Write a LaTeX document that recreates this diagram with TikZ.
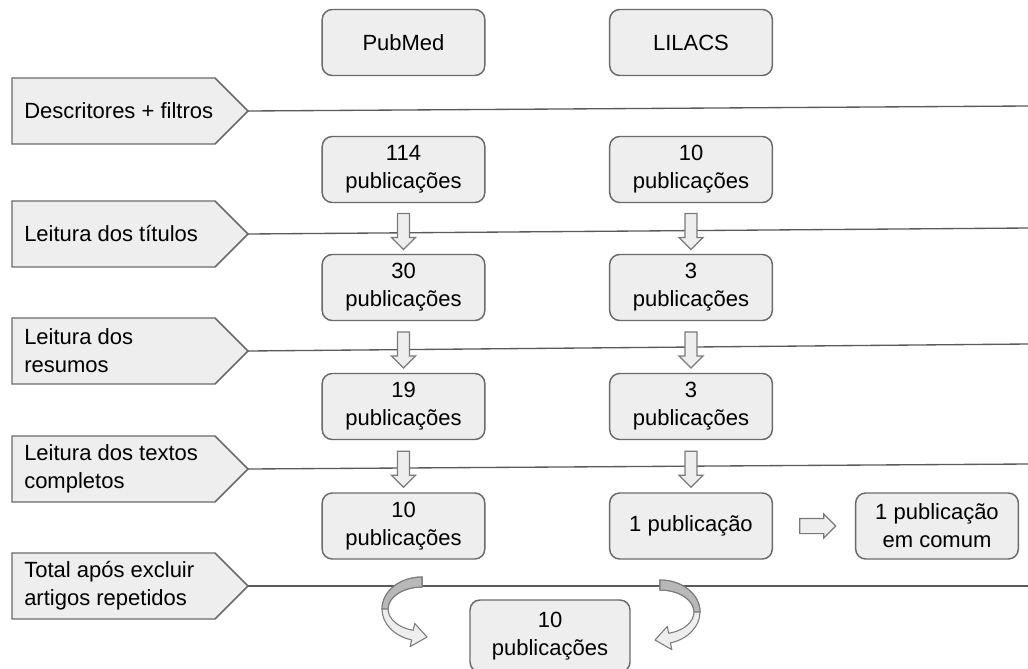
\documentclass[tikz,border=0pt]{standalone}
\usepackage{fontspec}
\setmainfont{Liberation Sans}
\usetikzlibrary{shapes.arrows,calc}

\definecolor{boxfill}{HTML}{EEEEEE}
\definecolor{boxline}{HTML}{6A6A6A}
\definecolor{ruleline}{HTML}{5A5A5A}
\definecolor{arrowdark}{HTML}{B8B8B8}
\definecolor{arrowline}{HTML}{7A7A7A}

\tikzset{
	base/.style={font=\fontsize{16.5}{21}\selectfont},
	pubbox/.style={base, draw=boxline, fill=boxfill, line width=1.1pt,
		rounded corners=7.5pt, minimum width=122pt, minimum height=49.5pt,
		align=center, inner sep=2pt},
	stagebox/.style={draw=boxline, fill=boxfill, line width=1.1pt},
	stagetext/.style={base, anchor=west, align=left, inner sep=0pt},
	rule/.style={draw=ruleline, line width=1pt},
	blockarrow/.style={single arrow, draw=arrowline, fill=boxfill, line width=0.9pt,
		minimum height=27pt, inner xsep=0pt},
	dnarrow/.style={blockarrow, inner ysep=4.1pt,
		single arrow head extend=4.5pt, rotate=-90},
	rtarrow/.style={blockarrow, inner ysep=5.25pt,
		single arrow head extend=3.4pt},
	curvarrow/.pic={
		% light ribbon with head
		\filldraw[fill=boxfill, draw=arrowline, line width=0.8pt, line join=round]
		(-90:40 and 32) arc (-90:-255:40 and 32) -- (-255:46 and 39) -- (5,28)
		-- (-255:28 and 15) -- (-255:34 and 22) arc (-255:-90:34 and 22) -- cycle;
		% darker upper part
		\filldraw[fill=arrowdark, draw=arrowline, line width=0.8pt]
		(-90:40 and 32) arc (-90:-180:40 and 32) -- (-180:34 and 22)
		arc (-180:-90:34 and 22) -- cycle;
	}
}

\begin{document}
\begin{tikzpicture}[x=0.75pt,y=-0.75pt]
\useasboundingbox (0,0) rectangle (1028,668);

%----------------------------
% Left: stages and their rules
%----------------------------
\foreach \n/\y/\ye/\txt in {1/111/106/{Descritores + filtros},
	2/234/228/{Leitura dos títulos},
	3/351/344/{Leitura dos\\resumos},
	4/469/464/{Leitura dos textos\\completos},
	5/586/586/{Total após excluir\\artigos repetidos}}{
	\draw[stagebox] (12,{\y-33}) -- (215,{\y-33}) -- (248,\y)
	-- (215,{\y+33}) -- (12,{\y+33}) -- cycle;
	\node[stagetext] (s\n) at (24,\y) {\txt};
	\coordinate (tip\n) at (248,\y);
	\coordinate (end\n) at (1028,\ye);
	\draw[rule] (tip\n) -- (end\n);
}

%----------------------------
% Columns: PubMed and LILACS
%----------------------------
\node[pubbox] (pub) at (403.5,42.5) {PubMed};
\node[pubbox] (lil) at (691,42.5) {LILACS};

\node[pubbox] (p1) at (403.5,169.5) {114\\publicações};
\node[pubbox] (p2) at (403.5,287.5) {30\\publicações};
\node[pubbox] (p3) at (403.5,406.5) {19\\publicações};
\node[pubbox] (p4) at (403.5,526) {10\\publicações};

\node[pubbox] (l1) at (691,169.5) {10\\publicações};
\node[pubbox] (l2) at (691,287.5) {3\\publicações};
\node[pubbox] (l3) at (691,406.5) {3\\publicações};
\node[pubbox] (l4) at (691,526) {1 publicação};

% common publication
\node[pubbox] (c4) at (937,526) {1 publicação\\em comum};

% total after removing repeated ones
\node[pubbox, minimum width=120pt, minimum height=54pt] (tot) at (550,636) {10\\publicações};

%----------------------------
% Block arrows
%----------------------------
\foreach \a/\b in {p1/p2,p2/p3,p3/p4,l1/l2,l2/l3,l3/l4}
\node[dnarrow] (arr-\a) at ($(\a.south)!0.5!(\b.north)$) {};
\node[rtarrow] (arr-c4) at ($(l4.east)!0.5!(c4.west)$) {};

% curved arrows into the total
\pic at (422,609) {curvarrow};
\pic[xscale=-1] at (660,612) {curvarrow};

\end{tikzpicture}
\end{document}
